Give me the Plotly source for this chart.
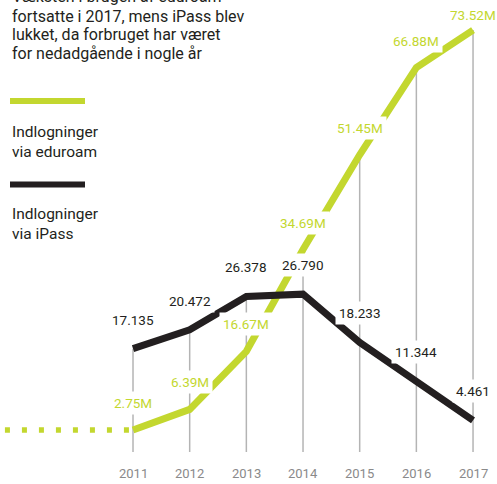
import plotly.graph_objects as go

# ---------------- data ----------------
years = [2011, 2012, 2013, 2014, 2015, 2016, 2017]
eduroam = [2.75, 6.39, 16.67, 34.69, 51.45, 66.88, 73.52]          # millions
eduroam_labels = ["2.75M", "6.39M", "16.67M", "34.69M", "51.45M", "66.88M", "73.52M"]
ipass = [17.135, 20.472, 26.378, 26.790, 18.233, 11.344, 4.461]
ipass_labels = ["17.135", "20.472", "26.378", "26.790", "18.233", "11.344", "4.461"]
pre_period_start = 2008.74   # dotted "earlier years" lead-in for eduroam

title_lines = [
    "Væksten i brugen af eduroam",
    "fortsatte i 2017, mens iPass blev",
    "lukket, da forbruget har været",
    "for nedadgående i nogle år",
]
legend_eduroam = "Indlogninger<br>via eduroam"
legend_ipass = "Indlogninger<br>via iPass"

# ---------------- style ----------------
GREEN = "#c3d72f"
DARK = "#231f20"
GRID = "#b4b4b4"
YEARC = "#8a8a8a"
FONT = "Roboto"
W, H = 497, 484

X_RANGE = [2008.653, 2017.423]
Y_RANGE = [-6.814, 78.85]
GRID_BOTTOM = -1.15

fig = go.Figure()

# vertical guide lines from top data point down to the baseline
gx, gy = [], []
for yr, e, i in zip(years, eduroam, ipass):
    gx += [yr, yr, None]
    gy += [max(e, i), GRID_BOTTOM, None]
fig.add_trace(go.Scatter(x=gx, y=gy, mode="lines",
                         line=dict(color=GRID, width=1.5),
                         hoverinfo="skip", showlegend=False))

# dotted lead-in
fig.add_trace(go.Scatter(x=[pre_period_start, years[0]], y=[eduroam[0], eduroam[0]],
                         mode="lines", line=dict(color=GREEN, width=5.5, dash="5px,12px"),
                         hoverinfo="skip", showlegend=False))

# eduroam
fig.add_trace(go.Scatter(x=years, y=eduroam, mode="lines",
                         line=dict(color=GREEN, width=7),
                         name="eduroam", showlegend=False))
# iPass (on top)
fig.add_trace(go.Scatter(x=years, y=ipass, mode="lines",
                         line=dict(color=DARK, width=7),
                         name="iPass", showlegend=False))

ann = []
# data labels with white boxes
for k, (yr, v, t) in enumerate(zip(years, eduroam, eduroam_labels)):
    shift = 15 if k == len(years) - 1 else 27
    ann.append(dict(x=yr, y=v, xref="x", yref="y", text=t, showarrow=False,
                    yshift=shift, yanchor="middle", xanchor="center",
                    font=dict(family=FONT, size=13.5, color=GREEN),
                    bgcolor="white", borderpad=3))
for yr, v, t in zip(years, ipass, ipass_labels):
    ann.append(dict(x=yr, y=v, xref="x", yref="y", text=t, showarrow=False,
                    yshift=29, yanchor="middle", xanchor="center",
                    font=dict(family=FONT, size=13.5, color=DARK),
                    bgcolor="white", borderpad=3))

# year labels
for yr in years:
    ann.append(dict(x=yr, y=-5.0, xref="x", yref="y", text=str(yr), showarrow=False,
                    yanchor="middle", xanchor="center",
                    font=dict(family=FONT, size=13, color=YEARC)))


def py(px):
    return 1 - px / H


# title lines
for t, cy in zip(title_lines, [-3, 16, 34.5, 53]):
    ann.append(dict(x=10 / W, y=py(cy), xref="paper", yref="paper", text=t,
                    showarrow=False, xanchor="left", yanchor="middle",
                    font=dict(family=FONT, size=16, color=DARK)))

# legend text (two-line blocks)
for t, cy in zip([legend_eduroam, legend_ipass], [141.5, 223.5]):
    ann.append(dict(x=10 / W, y=py(cy), xref="paper", yref="paper", text=t,
                    showarrow=False, xanchor="left", yanchor="middle", align="left",
                    font=dict(family=FONT, size=15.5, color=DARK)))

shapes = [
    dict(type="line", xref="paper", yref="paper", x0=10 / W, x1=85 / W,
         y0=py(101), y1=py(101), line=dict(color=GREEN, width=6)),
    dict(type="line", xref="paper", yref="paper", x0=10 / W, x1=85 / W,
         y0=py(184.5), y1=py(184.5), line=dict(color=DARK, width=6)),
]

fig.update_layout(
    width=W, height=H,
    margin=dict(l=0, r=0, t=0, b=0),
    paper_bgcolor="white", plot_bgcolor="white",
    xaxis=dict(range=X_RANGE, visible=False, fixedrange=True),
    yaxis=dict(range=Y_RANGE, visible=False, fixedrange=True),
    annotations=ann, shapes=shapes,
    showlegend=False,
)

fig.write_html("out.html")
